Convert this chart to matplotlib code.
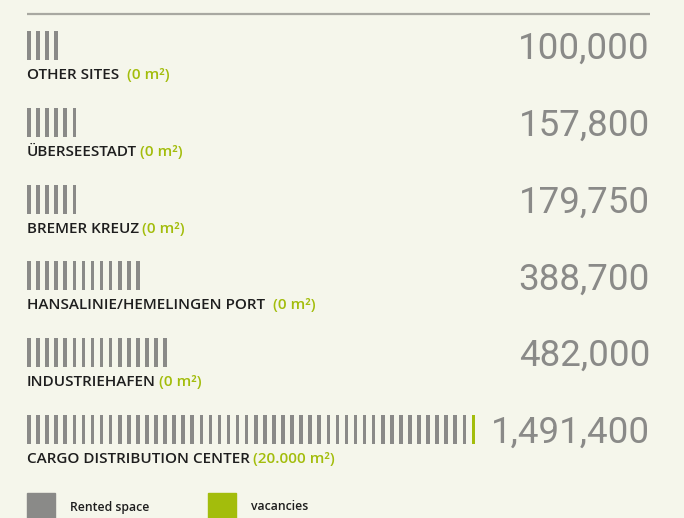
import matplotlib.pyplot as plt

# site data (m²); each tick stands for roughly 30,000 m²
sites = ["OTHER SITES", "ÜBERSEESTADT", "BREMER KREUZ",
         "HANSALINIE/HEMELINGEN PORT", "INDUSTRIEHAFEN", "CARGO DISTRIBUTION CENTER"]
totals = ["100,000", "157,800", "179,750", "388,700", "482,000", "1,491,400"]
vacancy_labels = ["(0 m²)", "(0 m²)", "(0 m²)", "(0 m²)", "(0 m²)", "(20.000 m²)"]
rented_ticks = [4, 6, 6, 13, 16, 49]
vacant_ticks = [0, 0, 0, 0, 0, 1]
label_gap = [8, 3, 3, 8, 3, 3]  # gap between name and vacancy text, px

BG = "#f5f6eb"
GREY = "#8a8a88"
GREEN = "#a3bd0c"
DARK = "#1e1e1e"
LABEL_FONT = "Open Sans"

fig = plt.figure(figsize=(6.84, 5.18), dpi=100, facecolor=BG)
ax = fig.add_axes([0, 0, 1, 1])
ax.set_xlim(0, 684)
ax.set_ylim(518, 0)
ax.axis("off")
ax.set_facecolor(BG)

# top rule
ax.plot([27, 650], [14, 14], color="#a8a8a1", lw=1.6, solid_capstyle="butt")

x0 = 29
step = 9.07
row_h = 76.8
top0 = 31
for i, name in enumerate(sites):
    top = top0 + i * row_h
    n_r = rented_ticks[i]
    n_v = vacant_ticks[i]
    xs = [x0 + k * step for k in range(n_r)]
    ax.bar(xs, 29, bottom=top, width=3.6, color=GREY, align="center")
    if n_v:
        xv = [x0 + (n_r + k) * step for k in range(n_v)]
        ax.bar(xv, 29, bottom=top, width=3.6, color=GREEN, align="center")

    t = ax.text(27, top + 44, name, fontsize=11, color=DARK, family=LABEL_FONT,
                fontweight="semibold", va="center", ha="left")
    ax.annotate(vacancy_labels[i], xy=(1, 0.5), xycoords=t,
                xytext=(label_gap[i] * 0.72, 0), textcoords="offset points",
                fontsize=11, color=GREEN, family=LABEL_FONT, fontweight="semibold",
                va="center", ha="left")

    ax.text(650, top + 18, totals[i], fontsize=26.5, color=GREY, family="Roboto",
            va="center", ha="right")

# legend
ax.add_patch(plt.Rectangle((27, 493), 28, 30, color=GREY, clip_on=False))
ax.text(70, 507, "Rented space", fontsize=8.8, color=DARK, family=LABEL_FONT,
        fontweight="semibold", va="center")
ax.add_patch(plt.Rectangle((208, 493), 28, 30, color=GREEN, clip_on=False))
ax.text(251, 507, "vacancies", fontsize=8.8, color=DARK, family=LABEL_FONT,
        fontweight="semibold", va="center")

fig.savefig("out.png", dpi=100, facecolor=BG)
